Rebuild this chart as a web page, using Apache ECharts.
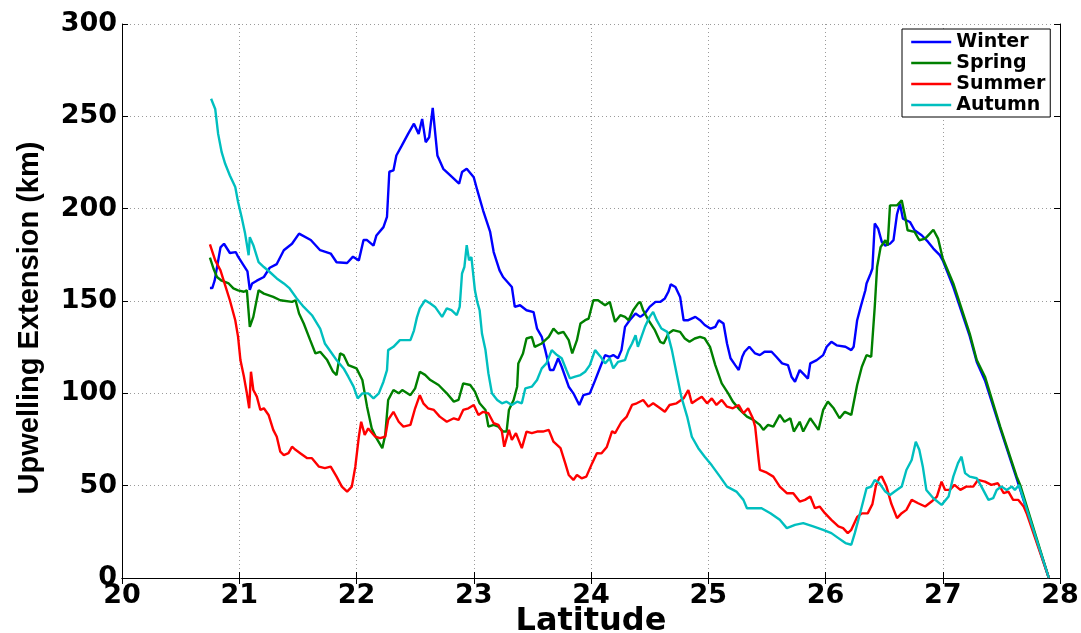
<!DOCTYPE html>
<html>
<head>
<meta charset="utf-8">
<title>Upwelling Extension by Season</title>
<script src="https://cdn.jsdelivr.net/npm/echarts@6/dist/echarts.min.js"></script>
<style>
  html, body { margin: 0; padding: 0; background: #fff; }
  #chart { width: 1081px; height: 633px; }
</style>
</head>
<body>
<div id="chart"></div>
<script>
// Seasonal upwelling extension (km) along latitude, pairs of [latitude, km]
const winter = [[20.75,157],[20.77,157],[20.79,161],[20.84,179],[20.87,181],[20.92,176],[20.97,176.5],[20.99,174],[21.04,169],[21.07,166],[21.09,156],[21.11,159.5],[21.15,161],[21.21,163],[21.26,168],[21.32,170],[21.38,177.5],[21.45,181],[21.51,186.5],[21.61,183],[21.69,177.5],[21.78,175.7],[21.83,171],[21.92,170.6],[21.97,174],[22.02,172],[22.06,183],[22.09,183],[22.145,180],[22.17,185.5],[22.23,190],[22.26,195.5],[22.28,220],[22.315,220.7],[22.34,228.8],[22.385,234],[22.44,240.5],[22.49,246],[22.53,240.5],[22.56,248.6],[22.59,236],[22.62,238.7],[22.65,254.6],[22.69,228.8],[22.74,221.6],[22.80,218],[22.875,213.5],[22.90,219.8],[22.94,221.6],[23.00,217],[23.03,210],[23.08,199],[23.14,187.4],[23.17,176.5],[23.22,166.6],[23.25,163],[23.325,157.6],[23.35,146.8],[23.395,147.7],[23.45,145],[23.51,144],[23.54,135],[23.58,130.6],[23.61,123.4],[23.65,112.6],[23.68,112.6],[23.72,119],[23.75,114.4],[23.81,103.6],[23.85,100],[23.90,93.7],[23.935,99],[23.99,100],[24.035,107],[24.08,114.4],[24.12,120.7],[24.16,119.8],[24.19,120.7],[24.23,119],[24.26,123.4],[24.29,136],[24.33,139.6],[24.38,143.2],[24.42,141.4],[24.46,143.2],[24.50,146.8],[24.55,149.5],[24.59,149.5],[24.63,151.4],[24.66,155],[24.68,159],[24.72,157.6],[24.76,152.2],[24.79,139.6],[24.83,139.6],[24.89,141.4],[24.93,139.6],[24.97,137],[25.02,135],[25.06,136],[25.09,139.6],[25.13,137.8],[25.16,127],[25.19,119],[25.23,115.3],[25.26,112.6],[25.29,119.8],[25.31,122.5],[25.35,125.2],[25.40,121.6],[25.44,120.7],[25.48,122.5],[25.54,122.5],[25.58,119.8],[25.63,116.2],[25.68,115.3],[25.71,109],[25.74,106.3],[25.78,112.6],[25.82,110],[25.85,108],[25.87,116.2],[25.925,118],[25.98,120.7],[26.01,125.2],[26.05,127.9],[26.095,126],[26.17,125.2],[26.22,123.4],[26.24,125.2],[26.27,139.6],[26.30,146.8],[26.34,155.8],[26.35,159.5],[26.385,164.9],[26.40,167.6],[26.42,192],[26.45,189],[26.48,182],[26.51,180],[26.55,181],[26.58,183],[26.61,197],[26.635,202.7],[26.66,194.6],[26.72,192.8],[26.76,188.3],[26.82,185.6],[26.875,182],[26.92,178.4],[26.975,174.8],[27.0,172],[27.09,157.5],[27.23,131],[27.29,117],[27.36,107],[27.49,81],[27.63,54],[27.77,26],[27.905,0]];

const spring = [[20.75,173.5],[20.78,167.6],[20.81,163],[20.85,161],[20.91,159.5],[20.95,156.8],[20.99,155.8],[21.04,155],[21.065,155.8],[21.09,136],[21.12,141.4],[21.165,155.8],[21.21,154],[21.29,152.2],[21.35,150.4],[21.45,149.5],[21.48,150.4],[21.51,143.2],[21.55,137.8],[21.605,128.8],[21.65,121.6],[21.69,122.5],[21.75,118],[21.80,111.7],[21.83,109.9],[21.86,121.6],[21.89,120.7],[21.93,115.3],[22.0,113.5],[22.05,107.2],[22.09,92.8],[22.13,81],[22.17,75.7],[22.22,70.3],[22.245,77.5],[22.27,96.4],[22.315,101.8],[22.36,100],[22.39,101.8],[22.46,99],[22.50,102.7],[22.54,111.7],[22.585,110],[22.63,107.2],[22.70,104.5],[22.77,100],[22.83,95.5],[22.87,96.4],[22.91,105.4],[22.97,104.5],[23.01,100.9],[23.05,94.6],[23.10,91],[23.125,82],[23.17,82.9],[23.21,82],[23.25,79.3],[23.28,79.3],[23.30,91],[23.34,96.4],[23.37,103.6],[23.38,116.2],[23.42,121.6],[23.45,129.7],[23.495,130.6],[23.52,125.2],[23.58,127],[23.64,130.6],[23.68,135],[23.72,132.4],[23.765,133.3],[23.81,128.8],[23.84,121.6],[23.88,128.8],[23.91,137.8],[23.95,139.6],[23.98,140.5],[24.02,150.4],[24.06,150.4],[24.12,147.7],[24.16,149.5],[24.205,138.7],[24.25,142.3],[24.29,141.4],[24.32,139.6],[24.36,145],[24.40,148.6],[24.42,149.5],[24.445,145],[24.49,139.6],[24.545,134.2],[24.59,127.9],[24.62,127],[24.66,132.4],[24.70,134.2],[24.76,133.3],[24.80,129.7],[24.84,127.9],[24.885,129.7],[24.93,130.6],[24.97,129.7],[25.015,125.2],[25.06,115.3],[25.115,105.4],[25.17,100],[25.21,95.5],[25.27,91],[25.33,87.4],[25.385,85.6],[25.44,82.9],[25.47,80.2],[25.51,82.9],[25.555,82],[25.61,88.3],[25.65,84.6],[25.70,86.5],[25.73,79.3],[25.78,84.6],[25.81,79.3],[25.87,86.5],[25.91,82.9],[25.94,80.2],[25.98,91],[26.02,95.5],[26.07,91.9],[26.12,86.5],[26.165,90],[26.22,88.3],[26.27,104.5],[26.31,114.4],[26.35,120.7],[26.39,119.8],[26.42,146.8],[26.44,168.4],[26.47,179.2],[26.51,182.9],[26.53,180],[26.55,201.8],[26.61,201.8],[26.65,204.5],[26.68,195.5],[26.70,188.3],[26.76,187.4],[26.80,182.9],[26.85,183.8],[26.89,186.5],[26.92,188.6],[26.96,183.8],[27.00,173],[27.09,159.5],[27.23,132.4],[27.29,118],[27.36,109],[27.49,82],[27.63,55],[27.66,50.4],[27.905,0]];

const summer = [[20.75,180.7],[20.795,172],[20.84,166.6],[20.88,158.5],[20.92,150.4],[20.966,139.6],[20.99,130.6],[21.01,118],[21.04,109],[21.065,100],[21.085,91.9],[21.10,111.7],[21.12,101.8],[21.15,98.2],[21.18,91],[21.21,91.9],[21.25,88.3],[21.29,80.2],[21.32,76.5],[21.35,68.4],[21.38,66.6],[21.42,67.6],[21.45,71.1],[21.48,69.4],[21.52,67.6],[21.58,64.9],[21.62,64.9],[21.68,60.3],[21.73,59.5],[21.78,60.3],[21.83,54.9],[21.875,49.5],[21.92,46.8],[21.96,49.5],[21.99,60.3],[22.02,76.5],[22.04,84.6],[22.07,77.5],[22.10,81],[22.16,76.5],[22.20,75.7],[22.245,76.5],[22.27,85.6],[22.315,90],[22.36,84.6],[22.40,82],[22.46,82.9],[22.50,91.9],[22.54,99],[22.57,94.6],[22.61,91.9],[22.66,91],[22.71,87.4],[22.77,84.6],[22.83,86.5],[22.87,85.6],[22.91,91],[22.955,91.9],[23.00,93.7],[23.04,88.3],[23.08,90],[23.125,89.2],[23.17,83.8],[23.21,82.9],[23.24,79.3],[23.26,71.1],[23.30,80.2],[23.325,74.8],[23.36,78.4],[23.41,70.3],[23.45,79.3],[23.495,78.4],[23.54,79.3],[23.59,79.3],[23.64,80.2],[23.68,73.8],[23.74,70.3],[23.78,62.2],[23.81,55.8],[23.85,53.1],[23.88,55.8],[23.92,54],[23.96,54.9],[24.01,62.2],[24.05,67.6],[24.09,67.5],[24.135,71],[24.18,79.5],[24.205,78.4],[24.26,84.6],[24.305,87.4],[24.35,93.7],[24.39,94.6],[24.445,96.4],[24.49,92.8],[24.53,94.6],[24.59,91.9],[24.63,90],[24.67,93.7],[24.73,94.6],[24.79,97.3],[24.83,101.8],[24.86,94.6],[24.90,96.4],[24.945,98.2],[24.99,94.6],[25.03,97.3],[25.07,93.7],[25.115,96.4],[25.16,92.8],[25.21,91.9],[25.26,93.7],[25.30,89.2],[25.34,91.9],[25.38,86.5],[25.40,82],[25.43,64],[25.44,58.5],[25.50,57],[25.555,54.9],[25.61,49.5],[25.67,45.9],[25.725,45.9],[25.78,41.4],[25.825,42.3],[25.87,44.1],[25.91,37.8],[25.95,38.7],[25.995,35.1],[26.05,31.5],[26.11,27.9],[26.15,27],[26.19,24.3],[26.22,26.1],[26.27,33],[26.31,35],[26.36,35],[26.40,40],[26.43,50],[26.46,54.5],[26.48,54.9],[26.52,49.5],[26.56,40.5],[26.61,32.4],[26.65,35.1],[26.69,36.9],[26.735,42.3],[26.79,40.5],[26.85,38.7],[26.905,41.4],[26.95,44.1],[26.99,52.2],[27.02,47.7],[27.06,47.7],[27.10,50.4],[27.15,47.7],[27.20,49.5],[27.26,49.5],[27.30,53.1],[27.36,52.2],[27.415,50.4],[27.47,51.3],[27.52,45.9],[27.56,46.8],[27.60,42.3],[27.645,42.3],[27.69,38.7],[27.715,35.1],[27.905,0]];

const autumn = [[20.76,259.5],[20.795,254],[20.82,240.5],[20.85,230.6],[20.88,224.3],[20.92,218],[20.966,211.7],[20.99,203.6],[21.02,195.5],[21.05,186.5],[21.08,174.8],[21.09,184.6],[21.12,180.2],[21.165,171.1],[21.21,168.4],[21.26,165.7],[21.32,162.2],[21.38,159.5],[21.43,156.8],[21.49,151.4],[21.55,146.8],[21.62,142.3],[21.69,135.1],[21.73,127],[21.78,122.5],[21.83,118],[21.89,113.5],[21.93,109],[21.975,103.6],[22.01,97.3],[22.05,100],[22.10,100],[22.145,97.3],[22.19,100],[22.23,106.3],[22.26,112.6],[22.27,123.4],[22.315,125.2],[22.37,128.8],[22.46,128.8],[22.49,134],[22.515,141],[22.54,146],[22.585,150.4],[22.63,148.6],[22.67,146.8],[22.73,141.4],[22.77,146],[22.81,145],[22.855,142.3],[22.88,146.8],[22.90,164.9],[22.92,168.4],[22.94,180.2],[22.96,172],[22.98,173.8],[23.01,155.8],[23.03,149.5],[23.05,145],[23.07,132.4],[23.10,123.4],[23.125,110.8],[23.155,100],[23.20,96.4],[23.24,94.6],[23.28,95.5],[23.325,93.7],[23.37,95.5],[23.41,94.6],[23.44,102.7],[23.495,103.6],[23.54,107.2],[23.58,113.5],[23.62,116.2],[23.665,123.4],[23.71,120.7],[23.75,119],[23.79,112.6],[23.82,108.1],[23.865,109],[23.91,109.9],[23.95,111.7],[23.99,115.3],[24.035,123.4],[24.08,120],[24.12,116.2],[24.16,119],[24.19,113.5],[24.23,117],[24.29,118],[24.32,123.4],[24.35,127],[24.38,131.5],[24.40,125.2],[24.43,130.6],[24.46,136],[24.50,141.4],[24.53,144.1],[24.56,139.6],[24.60,135.1],[24.65,133.3],[24.69,123.4],[24.73,110.8],[24.77,98.2],[24.82,87.4],[24.86,76.5],[24.915,70.3],[24.97,65.7],[25.03,61],[25.10,54.9],[25.16,49.5],[25.24,46.8],[25.30,42.3],[25.33,37.8],[25.385,37.8],[25.455,37.8],[25.53,35.1],[25.61,31.5],[25.67,27],[25.74,28.8],[25.81,29.7],[25.895,27.9],[25.98,26.1],[26.05,24.3],[26.11,21.6],[26.17,18.9],[26.22,18],[26.25,24.3],[26.28,31.5],[26.31,38.7],[26.35,48.6],[26.39,49.5],[26.42,53.1],[26.46,51.3],[26.51,46.8],[26.55,45],[26.59,46.8],[26.65,49.5],[26.69,58.5],[26.735,63.9],[26.77,73.8],[26.80,69.4],[26.83,60.3],[26.86,47.7],[26.92,43.2],[26.99,39.6],[27.05,44.1],[27.09,54.9],[27.13,62.2],[27.16,65.7],[27.19,56.8],[27.23,54.9],[27.29,54],[27.33,49.5],[27.39,42.3],[27.43,43.2],[27.46,47.7],[27.50,49.5],[27.545,47.7],[27.59,49.5],[27.615,47.7],[27.65,50.4],[27.905,0]];

const seasonNames = ['Winter', 'Spring', 'Summer', 'Autumn'];
const seasonColors = ['#0000ff', '#008000', '#ff0000', '#00bfbf'];
const seasonData = [winter, spring, summer, autumn];

const xTicks = { min: 20, max: 28, step: 1 };
const yTicks = { min: 0, max: 300, step: 50 };

const labelFont = { fontFamily: 'DejaVu Sans', fontWeight: 'bold', color: '#000' };

const gridLine = { show: true, lineStyle: { color: '#9a9a9a', type: [1, 3], width: 1 } };

const chart = echarts.init(document.getElementById('chart'), null, { renderer: 'canvas' });

chart.setOption({
  animation: false,
  backgroundColor: '#fff',
  grid: { left: 122, right: 21, top: 24, bottom: 55, containLabel: false, outerBoundsMode: 'none' },
  legend: {
    data: seasonNames,
    orient: 'vertical',
    left: 902,
    top: 29,
    padding: [3, 5, 2, 8],
    itemWidth: 40,
    itemHeight: 12,
    itemGap: 1,
    borderColor: '#000',
    borderWidth: 1,
    backgroundColor: '#fff',
    // plain line samples, no marker in the middle
    itemStyle: { opacity: 0 },
    lineStyle: { width: 2.4 },
    textStyle: { ...labelFont, fontSize: 19, lineHeight: 20 }
  },
  xAxis: [{
    type: 'value', min: xTicks.min, max: xTicks.max, interval: xTicks.step,
    name: 'Latitude', nameLocation: 'middle', nameGap: 44, nameMoveOverlap: false,
    nameTextStyle: { ...labelFont, fontSize: 32, lineHeight: 32, verticalAlign: 'middle' },
    axisLine: { show: true, lineStyle: { color: '#000', width: 1 } },
    axisTick: { show: true, inside: true, length: 6, lineStyle: { color: '#000' } },
    axisLabel: { ...labelFont, fontSize: 27, margin: 4 },
    splitLine: gridLine
  }, {
    type: 'value', position: 'top', min: xTicks.min, max: xTicks.max, interval: xTicks.step,
    axisLine: { show: true, lineStyle: { color: '#000', width: 1 } },
    axisTick: { show: true, inside: true, length: 6, lineStyle: { color: '#000' } },
    axisLabel: { show: false }, splitLine: { show: false }
  }],
  yAxis: [{
    type: 'value', min: yTicks.min, max: yTicks.max, interval: yTicks.step,
    name: 'Upwelling Extension (km)', nameLocation: 'middle', nameGap: 78,
    nameTextStyle: { fontFamily: 'Liberation Sans', fontWeight: 'bold', fontSize: 29, color: '#000', padding: [0, 34, 0, 0] },
    axisLine: { show: true, lineStyle: { color: '#000', width: 1 } },
    axisTick: { show: true, inside: true, length: 6, lineStyle: { color: '#000' } },
    axisLabel: { ...labelFont, fontSize: 27, margin: 5 },
    splitLine: gridLine
  }, {
    type: 'value', position: 'right', min: yTicks.min, max: yTicks.max, interval: yTicks.step,
    axisLine: { show: true, lineStyle: { color: '#000', width: 1 } },
    axisTick: { show: true, inside: true, length: 6, lineStyle: { color: '#000' } },
    axisLabel: { show: false }, splitLine: { show: false }
  }],
  series: seasonNames.map((name, i) => ({
    name,
    type: 'line',
    data: seasonData[i],
    symbol: 'none',
    showSymbol: false,
    smooth: false,
    clip: true,
    color: seasonColors[i],
    lineStyle: { color: seasonColors[i], width: 2.4 },
    z: 2 + i
  }))
});
</script>
</body>
</html>
